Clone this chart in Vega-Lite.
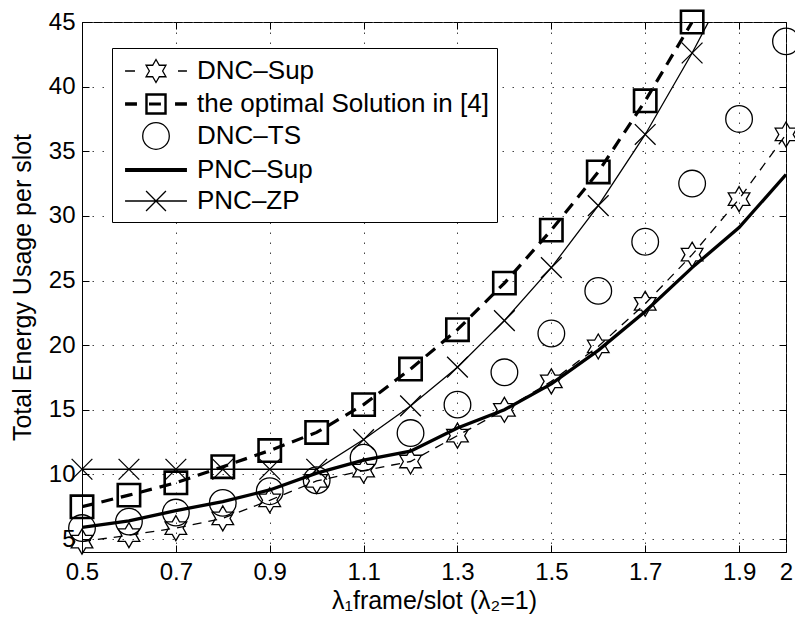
{
  "$schema": "https://vega.github.io/schema/vega-lite/v6.json",
  "width": 704,
  "height": 530,
  "autosize": {"type": "none"},
  "padding": {"left": 82, "top": 22, "right": 9, "bottom": 72},
  "background": "white",
  "data": {
    "values": [
      {"s": "DNC", "x": 0.5, "y": 4.8}, {"s": "DNC", "x": 0.6, "y": 5.3}, {"s": "DNC", "x": 0.7, "y": 5.85}, {"s": "DNC", "x": 0.8, "y": 6.6},
      {"s": "DNC", "x": 0.9, "y": 8.0}, {"s": "DNC", "x": 1.0, "y": 9.5}, {"s": "DNC", "x": 1.1, "y": 10.3}, {"s": "DNC", "x": 1.2, "y": 11.0},
      {"s": "DNC", "x": 1.3, "y": 13.0}, {"s": "DNC", "x": 1.4, "y": 15.0}, {"s": "DNC", "x": 1.5, "y": 17.2}, {"s": "DNC", "x": 1.6, "y": 19.9},
      {"s": "DNC", "x": 1.7, "y": 23.2}, {"s": "DNC", "x": 1.8, "y": 27.0}, {"s": "DNC", "x": 1.9, "y": 31.3}, {"s": "DNC", "x": 2.0, "y": 36.3},
      {"s": "OPT", "x": 0.5, "y": 7.5}, {"s": "OPT", "x": 0.6, "y": 8.4}, {"s": "OPT", "x": 0.7, "y": 9.35}, {"s": "OPT", "x": 0.8, "y": 10.6},
      {"s": "OPT", "x": 0.9, "y": 11.85}, {"s": "OPT", "x": 1.0, "y": 13.25}, {"s": "OPT", "x": 1.1, "y": 15.4}, {"s": "OPT", "x": 1.2, "y": 18.15},
      {"s": "OPT", "x": 1.3, "y": 21.2}, {"s": "OPT", "x": 1.4, "y": 24.8}, {"s": "OPT", "x": 1.5, "y": 28.9}, {"s": "OPT", "x": 1.6, "y": 33.4},
      {"s": "OPT", "x": 1.7, "y": 38.9}, {"s": "OPT", "x": 1.8, "y": 45.0},
      {"s": "TS", "x": 0.5, "y": 5.85}, {"s": "TS", "x": 0.6, "y": 6.35}, {"s": "TS", "x": 0.7, "y": 7.05}, {"s": "TS", "x": 0.8, "y": 7.8},
      {"s": "TS", "x": 0.9, "y": 8.7}, {"s": "TS", "x": 1.0, "y": 9.55}, {"s": "TS", "x": 1.1, "y": 11.3}, {"s": "TS", "x": 1.2, "y": 13.2},
      {"s": "TS", "x": 1.3, "y": 15.4}, {"s": "TS", "x": 1.4, "y": 17.9}, {"s": "TS", "x": 1.5, "y": 20.9}, {"s": "TS", "x": 1.6, "y": 24.2},
      {"s": "TS", "x": 1.7, "y": 28.0}, {"s": "TS", "x": 1.8, "y": 32.5}, {"s": "TS", "x": 1.9, "y": 37.5}, {"s": "TS", "x": 2.0, "y": 43.5},
      {"s": "PSUP", "x": 0.5, "y": 5.9}, {"s": "PSUP", "x": 0.6, "y": 6.4}, {"s": "PSUP", "x": 0.7, "y": 7.2}, {"s": "PSUP", "x": 0.8, "y": 7.9},
      {"s": "PSUP", "x": 0.9, "y": 8.8}, {"s": "PSUP", "x": 1.0, "y": 10.1}, {"s": "PSUP", "x": 1.1, "y": 11.1}, {"s": "PSUP", "x": 1.2, "y": 11.8},
      {"s": "PSUP", "x": 1.3, "y": 13.6}, {"s": "PSUP", "x": 1.4, "y": 15.0}, {"s": "PSUP", "x": 1.5, "y": 17.0}, {"s": "PSUP", "x": 1.6, "y": 19.6},
      {"s": "PSUP", "x": 1.7, "y": 22.6}, {"s": "PSUP", "x": 1.8, "y": 26.0}, {"s": "PSUP", "x": 1.9, "y": 29.1}, {"s": "PSUP", "x": 2.0, "y": 33.2},
      {"s": "ZP", "x": 0.5, "y": 10.4}, {"s": "ZP", "x": 0.6, "y": 10.4}, {"s": "ZP", "x": 0.7, "y": 10.4}, {"s": "ZP", "x": 0.8, "y": 10.4},
      {"s": "ZP", "x": 0.9, "y": 10.4}, {"s": "ZP", "x": 1.0, "y": 10.4}, {"s": "ZP", "x": 1.1, "y": 12.7}, {"s": "ZP", "x": 1.2, "y": 15.3},
      {"s": "ZP", "x": 1.3, "y": 18.3}, {"s": "ZP", "x": 1.4, "y": 21.9}, {"s": "ZP", "x": 1.5, "y": 26.0}, {"s": "ZP", "x": 1.6, "y": 30.8},
      {"s": "ZP", "x": 1.7, "y": 36.3}, {"s": "ZP", "x": 1.8, "y": 42.6}, {"s": "ZP", "x": 1.9, "y": 49.5}
    ]
  },
  "resolve": {"axis": {"x": "independent", "y": "independent"}},
  "layer": [
    {
      "transform": [{"filter": {"field": "s", "equal": "PSUP"}}],
      "mark": {"type": "line", "color": "black", "strokeWidth": 3.3, "clip": true},
      "encoding": {
        "x": {"field": "x", "type": "quantitative", "scale": {"domain": [0.5, 2], "nice": false, "zero": false},
          "axis": {"orient": "bottom", "values": [0.5, 0.7, 0.9, 1.1, 1.3, 1.5, 1.7, 1.9, 2], "format": "~g", "title": "λ₁frame/slot (λ₂=1)", "labelPadding": 15, "titlePadding": 4, "grid": true}},
        "y": {"field": "y", "type": "quantitative", "scale": {"domain": [4, 45], "nice": false, "zero": false},
          "axis": {"orient": "left", "values": [5, 10, 15, 20, 25, 30, 35, 40, 45], "title": "Total Energy Usage per slot", "labelPadding": 14, "titlePadding": 13, "grid": true}}
      }
    },
    {
      "transform": [{"filter": {"field": "s", "equal": "ZP"}}],
      "mark": {"type": "line", "color": "black", "strokeWidth": 1.3, "clip": true},
      "encoding": {
        "x": {"field": "x", "type": "quantitative", "scale": {"domain": [0.5, 2], "nice": false, "zero": false},
          "axis": {"orient": "top", "values": [0.5, 0.7, 0.9, 1.1, 1.3, 1.5, 1.7, 1.9, 2], "labels": false, "title": null, "grid": false, "domain": false}},
        "y": {"field": "y", "type": "quantitative", "scale": {"domain": [4, 45], "nice": false, "zero": false},
          "axis": {"orient": "right", "values": [5, 10, 15, 20, 25, 30, 35, 40, 45], "labels": false, "title": null, "grid": false, "domain": false}}
      }
    },
    {
      "transform": [{"filter": {"field": "s", "equal": "OPT"}}],
      "mark": {"type": "line", "color": "black", "strokeWidth": 3.2, "strokeDash": [12, 8], "clip": true},
      "encoding": {
        "x": {"field": "x", "type": "quantitative", "axis": null},
        "y": {"field": "y", "type": "quantitative", "axis": null}
      }
    },
    {
      "transform": [{"filter": {"field": "s", "equal": "DNC"}}],
      "mark": {"type": "line", "color": "black", "strokeWidth": 1.3, "strokeDash": [9, 7], "clip": true},
      "encoding": {
        "x": {"field": "x", "type": "quantitative", "axis": null},
        "y": {"field": "y", "type": "quantitative", "axis": null}
      }
    },
    {
      "transform": [{"filter": {"field": "s", "equal": "ZP"}}, {"filter": "datum.y <= 45.5"}],
      "mark": {"type": "point", "shape": "M-1,-1L1,1M-1,1L1,-1", "size": 430, "filled": false, "color": "black", "strokeWidth": 1.3, "opacity": 1},
      "encoding": {
        "x": {"field": "x", "type": "quantitative", "axis": null},
        "y": {"field": "y", "type": "quantitative", "axis": null}
      }
    },
    {
      "transform": [{"filter": {"field": "s", "equal": "OPT"}}, {"filter": "datum.y <= 45.5"}],
      "mark": {"type": "point", "shape": "square", "size": 500, "filled": false, "color": "black", "strokeWidth": 2.6, "opacity": 1},
      "encoding": {
        "x": {"field": "x", "type": "quantitative", "axis": null},
        "y": {"field": "y", "type": "quantitative", "axis": null}
      }
    },
    {
      "transform": [{"filter": {"field": "s", "equal": "TS"}}],
      "mark": {"type": "point", "shape": "circle", "size": 710, "filled": false, "color": "black", "strokeWidth": 1.3, "opacity": 1},
      "encoding": {
        "x": {"field": "x", "type": "quantitative", "axis": null},
        "y": {"field": "y", "type": "quantitative", "axis": null}
      }
    },
    {
      "transform": [{"filter": {"field": "s", "equal": "DNC"}}],
      "mark": {"type": "point", "shape": "M0,-1L0.289,-0.5L0.866,-0.5L0.577,0L0.866,0.5L0.289,0.5L0,1L-0.289,0.5L-0.866,0.5L-0.577,0L-0.866,-0.5L-0.289,-0.5Z", "size": 625, "filled": false, "color": "black", "strokeWidth": 1.3, "opacity": 1},
      "encoding": {
        "x": {"field": "x", "type": "quantitative", "axis": null},
        "y": {"field": "y", "type": "quantitative", "axis": null}
      }
    },
    {
      "data": {"values": []},
      "mark": {"type": "point", "filled": false, "color": "black", "strokeWidth": 1.3, "size": 784, "opacity": 1},
      "encoding": {
        "x": {"field": "x", "type": "quantitative", "axis": null},
        "y": {"field": "y", "type": "quantitative", "axis": null},
        "shape": {
          "field": "label", "type": "nominal",
          "scale": {
            "domain": ["DNC–Sup", "\u2004the optimal Solution in [4]", "DNC–TS", "PNC–Sup", "PNC–ZP"],
            "range": [
              "M-0.71,0H0M3.07,0H3.71M1.5,-0.82L1.737,-0.41L2.21,-0.41L1.973,0L2.21,0.41L1.737,0.41L1.5,0.82L1.263,0.41L0.79,0.41L1.027,0L0.79,-0.41L1.263,-0.41Z",
              "M-0.71,-0.08H0.14M-0.71,0.08H0.14M-0.71,0H0.14M2.86,-0.08H3.71M2.86,0.08H3.71M2.86,0H3.71M1,-0.06H1.85M1,0.06H1.85M1,0H1.85M0.78,-0.72H2.22V0.72H0.78ZM0.82,-0.68H2.18V0.68H0.82ZM0.86,-0.64H2.14V0.64H0.86Z",
              "M0.55,0A0.95,0.95,0,1,0,2.45,0A0.95,0.95,0,1,0,0.55,0Z",
              "M-0.71,-0.09H3.71M-0.71,-0.03H3.71M-0.71,0.03H3.71M-0.71,0.09H3.71",
              "M-0.71,0H3.71M0.79,-0.71L2.21,0.71M0.79,0.71L2.21,-0.71"
            ]
          },
          "legend": {
            "orient": "none", "legendX": 30, "legendY": 26, "title": null,
            "strokeColor": "black", "fillColor": "white", "padding": 8,
            "labelFont": "Liberation Sans", "labelFontSize": 26, "labelColor": "black", "labelOffset": 47, "labelLimit": 500,
            "rowPadding": 3, "symbolSize": 784, "symbolStrokeWidth": 1.3, "symbolStrokeColor": "black", "symbolFillColor": "transparent", "symbolOpacity": 1
          }
        }
      }
    }
  ],
  "config": {
    "font": "Liberation Sans",
    "view": {"stroke": "black", "strokeWidth": 1},
    "axis": {
      "labelFont": "Liberation Sans", "labelFontSize": 24, "labelColor": "black",
      "titleFont": "Liberation Sans", "titleFontSize": 25, "titleFontWeight": "normal", "titleColor": "black",
      "domainColor": "black", "domainWidth": 1, "tickColor": "black", "tickSize": -7, "tickWidth": 1,
      "gridColor": "#444", "gridDash": [1.5, 8.5], "gridOpacity": 1, "gridWidth": 1,
      "labelFlush": false, "labelOverlap": false
    }
  }
}
